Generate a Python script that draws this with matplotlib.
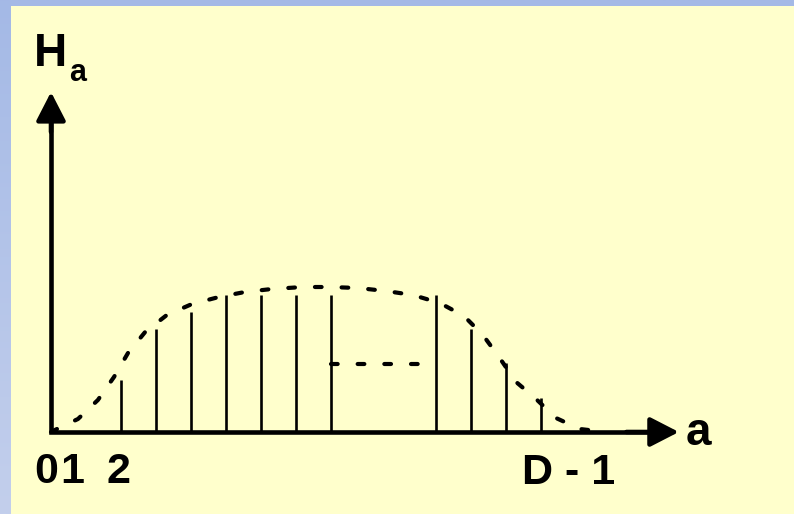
import matplotlib
matplotlib.use("Agg")
import matplotlib.pyplot as plt
import numpy as np
from matplotlib.colors import LinearSegmentedColormap

plt.rcParams['font.family'] = ['Liberation Sans', 'DejaVu Sans']

# histogram stems H_a at bin positions a (D - 1 = 14)
stem_a = [2, 3, 4, 5, 6, 7, 8, 11, 12, 13, 14]
stem_h = [52, 103, 120, 137, 137, 137, 137, 137, 103, 69, 34]

# smooth envelope drawn as a dotted curve
env_a = [0.0, 0.11, 0.77, 1.34, 1.8, 2.2, 2.69, 3.31, 4.03, 4.8, 5.54, 6.31, 7.2,
         7.97, 8.77, 9.57, 10.34, 11.11, 11.8, 12.34, 12.8, 13.29, 13.83, 14.43,
         15.11, 15.86]
env_h = [0, 2, 13, 32, 55, 79, 100, 117, 128, 135, 140, 143, 145,
         145, 144, 141, 137, 129, 116, 97, 75, 50, 34, 14,
         3, 0]

# dotted "and so on" gap between the stems
gap_a = [8, 10.6]
gap_h = [68, 68]

x_tip, y_tip = 17.94, 340

fig = plt.figure(figsize=(7.94, 5.14), dpi=100)

# bluish slide frame, lighter towards the bottom
bg = fig.add_axes([0, 0, 1, 1])
bg.axis('off')
cmap = LinearSegmentedColormap.from_list('frame', ['#a4b9e6', '#c3cfec'])
bg.imshow(np.linspace(0, 1, 256).reshape(-1, 1), aspect='auto', cmap=cmap,
          extent=[0, 1, 0, 1])

ax = fig.add_axes([11 / 794, 0, 1 - 11 / 794, 508 / 514])
ax.set_facecolor('#ffffcc')
ax.set_xlim(-1.143, 21.23)
ax.set_ylim(-82, 426)
for s in ax.spines.values():
    s.set_visible(False)
ax.set_xticks([])
ax.set_yticks([])

# stems
ax.vlines(stem_a, 0, stem_h, colors='black', lw=1.9)

# dotted envelope and gap marker
dots = dict(color='black', lw=3.0, linestyle=(0, (1.6, 4.8)), dash_capstyle='round')
ax.plot(env_a, env_h, **dots)
ax.plot(gap_a, gap_h, **dots)

# axes with arrow heads
ax.plot([0, 0, x_tip - 0.7], [y_tip - 20, 0, 0], color='black', lw=3.3,
        solid_joinstyle='miter', solid_capstyle='butt')
arrow = dict(arrowstyle='-|>,head_length=1.75,head_width=0.9', lw=3.3,
             color='black', shrinkA=0, shrinkB=0)
ax.annotate('', xy=(x_tip, 0), xytext=(x_tip - 1.5, 0), arrowprops=arrow)
ax.annotate('', xy=(0, y_tip), xytext=(0, y_tip - 40), arrowprops=arrow)

# labels
ax.text(-0.486, 366, 'H', fontsize=33, fontweight='bold', ha='left', va='baseline')
ax.text(0.514, 351, 'a', fontsize=22, fontweight='bold', ha='left', va='baseline')
ax.text(18.14, -13, 'a', fontsize=33, fontweight='bold', ha='left', va='baseline')
for lab, xpos in zip(['0', '1', '2'], [-0.14, 0.62, 1.93]):
    ax.text(xpos, -51, lab, fontsize=31, fontweight='bold', ha='center', va='baseline')
ax.text(13.46, -52, 'D - 1', fontsize=31, fontweight='bold', ha='left', va='baseline')

fig.savefig('out.png', dpi=100)
